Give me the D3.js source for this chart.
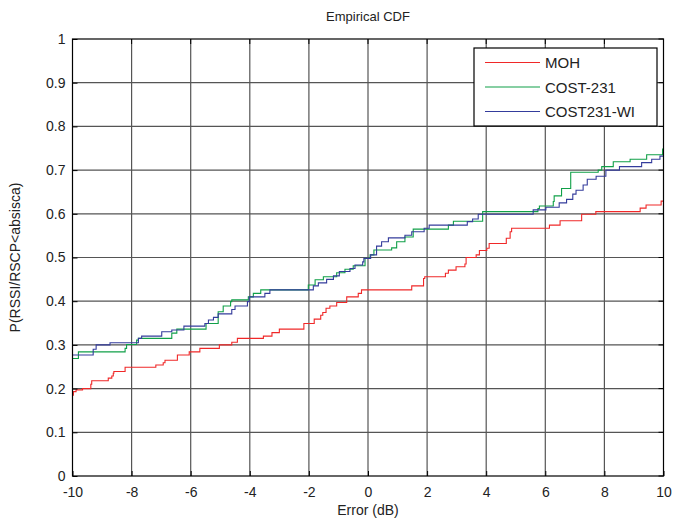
<!DOCTYPE html>
<html>
<head>
<meta charset="utf-8">
<script src="https://cdn.jsdelivr.net/npm/d3@7"></script>
<style>
body { margin: 0; background: #fff; }
text { font-family: "Liberation Sans", Arial, sans-serif; fill: #222; }
</style>
</head>
<body>
<div id="chart"></div>
<script>
// empirical CDF of error, three propagation models
var seriesNames = ["MOH", "COST-231", "COST231-WI"];
var seriesColors = ["#f02828", "#10a048", "#343c9c"];

var xTicks = [-10, -8, -6, -4, -2, 0, 2, 4, 6, 8, 10];
var yTicks = [0, 0.1, 0.2, 0.3, 0.4, 0.5, 0.6, 0.7, 0.8, 0.9, 1];

// [error dB, cdf] step points
var moh = [[-10, 0.185], [-9.97, 0.193], [-9.88, 0.197], [-9.66, 0.2], [-9.38, 0.21], [-9.35, 0.218],
	[-8.79, 0.224], [-8.67, 0.229], [-8.62, 0.235], [-8.6, 0.239], [-8.22, 0.249], [-7.18, 0.254],
	[-6.93, 0.259], [-6.87, 0.265], [-6.45, 0.277], [-6.05, 0.284], [-5.69, 0.292], [-5.03, 0.30],
	[-4.61, 0.306], [-4.42, 0.315], [-3.54, 0.32], [-3.25, 0.328], [-3.0, 0.336], [-2.17, 0.349],
	[-1.82, 0.359], [-1.60, 0.368], [-1.53, 0.374], [-1.42, 0.384], [-1.29, 0.389], [-1.06, 0.397],
	[-0.72, 0.41], [-0.33, 0.418], [-0.22, 0.426], [1.48, 0.435], [1.88, 0.452], [1.92, 0.456],
	[2.62, 0.464], [2.72, 0.471], [2.98, 0.479], [3.28, 0.485], [3.32, 0.5], [3.66, 0.506],
	[3.77, 0.516], [4.02, 0.521], [4.10, 0.532], [4.68, 0.544], [4.81, 0.559], [4.86, 0.567],
	[6.14, 0.574], [6.50, 0.584], [7.23, 0.599], [7.71, 0.605], [9.21, 0.613], [9.41, 0.62],
	[9.92, 0.629], [10, 0.629]];

var cost231 = [[-10, 0.269], [-9.80, 0.284], [-8.22, 0.292], [-8.17, 0.301], [-7.83, 0.311], [-7.77, 0.315],
	[-6.64, 0.327], [-6.47, 0.336], [-5.48, 0.349], [-5.07, 0.376], [-4.90, 0.389], [-4.65, 0.399],
	[-4.61, 0.403], [-4.05, 0.41], [-3.88, 0.418], [-3.63, 0.426], [-2.02, 0.437], [-1.79, 0.449],
	[-1.51, 0.456], [-1.06, 0.465], [-0.78, 0.473], [-0.50, 0.481], [-0.10, 0.498], [0.07, 0.506],
	[0.20, 0.517], [0.80, 0.522], [0.97, 0.536], [1.25, 0.547], [1.53, 0.565], [2.72, 0.574],
	[2.89, 0.583], [3.88, 0.605], [5.75, 0.612], [5.80, 0.618], [6.27, 0.628], [6.30, 0.641],
	[6.55, 0.658], [6.86, 0.695], [7.79, 0.70], [7.91, 0.708], [8.30, 0.719], [8.87, 0.725],
	[9.43, 0.735], [9.97, 0.748], [10, 0.748]];

var cost231wi = [[-10, 0.277], [-9.3, 0.29], [-9.2, 0.30], [-8.73, 0.305], [-7.77, 0.315], [-7.66, 0.32],
	[-6.98, 0.33], [-6.64, 0.334], [-6.23, 0.343], [-5.52, 0.349], [-5.40, 0.357], [-5.23, 0.363],
	[-5.07, 0.371], [-4.61, 0.381], [-4.50, 0.389], [-4.08, 0.399], [-4.02, 0.41], [-3.49, 0.418],
	[-3.32, 0.426], [-1.85, 0.435], [-1.68, 0.442], [-1.40, 0.45], [-1.17, 0.458], [-0.97, 0.468],
	[-0.61, 0.475], [-0.44, 0.483], [-0.18, 0.49], [-0.14, 0.498], [0.09, 0.506], [0.29, 0.526],
	[0.46, 0.536], [0.69, 0.545], [1.25, 0.551], [1.48, 0.559], [1.90, 0.567], [2.07, 0.574],
	[3.36, 0.582], [3.54, 0.588], [3.73, 0.599], [5.59, 0.609], [6.02, 0.615], [6.47, 0.625],
	[6.72, 0.633], [6.93, 0.645], [7.04, 0.654], [7.28, 0.666], [7.42, 0.679], [7.72, 0.686],
	[8.05, 0.70], [8.51, 0.708], [9.26, 0.717], [9.60, 0.725], [9.88, 0.732], [10, 0.732]];

var allSeries = [moh, cost231, cost231wi];

var margin = {top: 39, right: 10.5, bottom: 46, left: 72.5},
	width = 674 - margin.left - margin.right,
	height = 522 - margin.top - margin.bottom;

var svg = d3.select("#chart").append("svg")
	.attr("width", 674)
	.attr("height", 522);
var g = svg.append("g")
	.attr("transform", "translate(" + margin.left + "," + margin.top + ")");

var x = d3.scaleLinear().domain([-10, 10]).range([0, width]);
var y = d3.scaleLinear().domain([0, 1]).range([height, 0]);

//grid
g.append("g").selectAll("line")
	.data(xTicks.slice(1, -1))
	.enter().append("line")
		.attr("x1", function(d){return x(d);})
		.attr("x2", function(d){return x(d);})
		.attr("y1", 0)
		.attr("y2", height)
		.attr("stroke", "#555")
		.attr("stroke-width", 1.2);
g.append("g").selectAll("line")
	.data(yTicks.slice(1, -1))
	.enter().append("line")
		.attr("y1", function(d){return y(d);})
		.attr("y2", function(d){return y(d);})
		.attr("x1", 0)
		.attr("x2", width)
		.attr("stroke", "#555")
		.attr("stroke-width", 1.2);

//curves
var line = d3.line()
	.x(function(d){return x(d[0]);})
	.y(function(d){return y(d[1]);})
	.curve(d3.curveStepAfter);

allSeries.forEach(function(s, i){
	g.append("path")
		.datum(s)
		.attr("fill", "none")
		.attr("stroke", seriesColors[i])
		.attr("stroke-width", 1.1)
		.attr("d", line);
});

//axes (plain hyphen for negatives like matlab)
var fmt = function(d){return String(d);};
var xAxis = g.append("g")
	.attr("transform", "translate(0," + height + ")")
	.call(d3.axisBottom(x).tickValues(xTicks).tickSize(-5).tickPadding(11).tickFormat(fmt));
var yAxis = g.append("g")
	.call(d3.axisLeft(y).tickValues(yTicks).tickSize(-5).tickPadding(7).tickFormat(fmt));
[xAxis, yAxis].forEach(function(a){
	a.select(".domain").remove();
	a.selectAll("line").attr("stroke", "#000");
	a.selectAll("text").style("font-size", "14px").attr("fill", "#222")
		.style("font-family", "Liberation Sans, Arial, sans-serif");
});
// top and right ticks
g.append("g").selectAll("line").data(xTicks).enter().append("line")
	.attr("x1", function(d){return x(d);}).attr("x2", function(d){return x(d);})
	.attr("y1", 0).attr("y2", 5).attr("stroke", "#000");
g.append("g").selectAll("line").data(yTicks).enter().append("line")
	.attr("y1", function(d){return y(d);}).attr("y2", function(d){return y(d);})
	.attr("x1", width).attr("x2", width - 5).attr("stroke", "#000");

g.append("rect")
	.attr("width", width)
	.attr("height", height)
	.attr("fill", "none")
	.attr("stroke", "#000")
	.attr("stroke-width", 1.2);

//legend
var lg = g.append("g").attr("transform", "translate(" + (474 - margin.left) + "," + (48 - margin.top) + ")");
lg.append("rect")
	.attr("width", 183)
	.attr("height", 78)
	.attr("fill", "#fff")
	.attr("stroke", "#000")
	.attr("stroke-width", 1.2);
seriesNames.forEach(function(n, i){
	var yy = 14.5 + i * 24.5;
	lg.append("line")
		.attr("x1", 11).attr("x2", 66)
		.attr("y1", yy).attr("y2", yy)
		.attr("stroke", seriesColors[i])
		.attr("stroke-width", 1.1);
	lg.append("text")
		.attr("x", 71).attr("y", yy + 5.5)
		.style("font-size", "15px")
		.text(n);
});

//titles
svg.append("text")
	.attr("x", margin.left + width / 2)
	.attr("y", 21)
	.style("text-anchor", "middle")
	.style("font-size", "13px")
	.text("Empirical CDF");
svg.append("text")
	.attr("x", margin.left + width / 2)
	.attr("y", 515)
	.style("text-anchor", "middle")
	.style("font-size", "14px")
	.text("Error (dB)");
svg.append("text")
	.attr("transform", "rotate(-90)")
	.attr("x", -(margin.top + height / 2))
	.attr("y", 20)
	.style("text-anchor", "middle")
	.style("font-size", "14px")
	.text("P(RSSI/RSCP<absisca)");
</script>
</body>
</html>
